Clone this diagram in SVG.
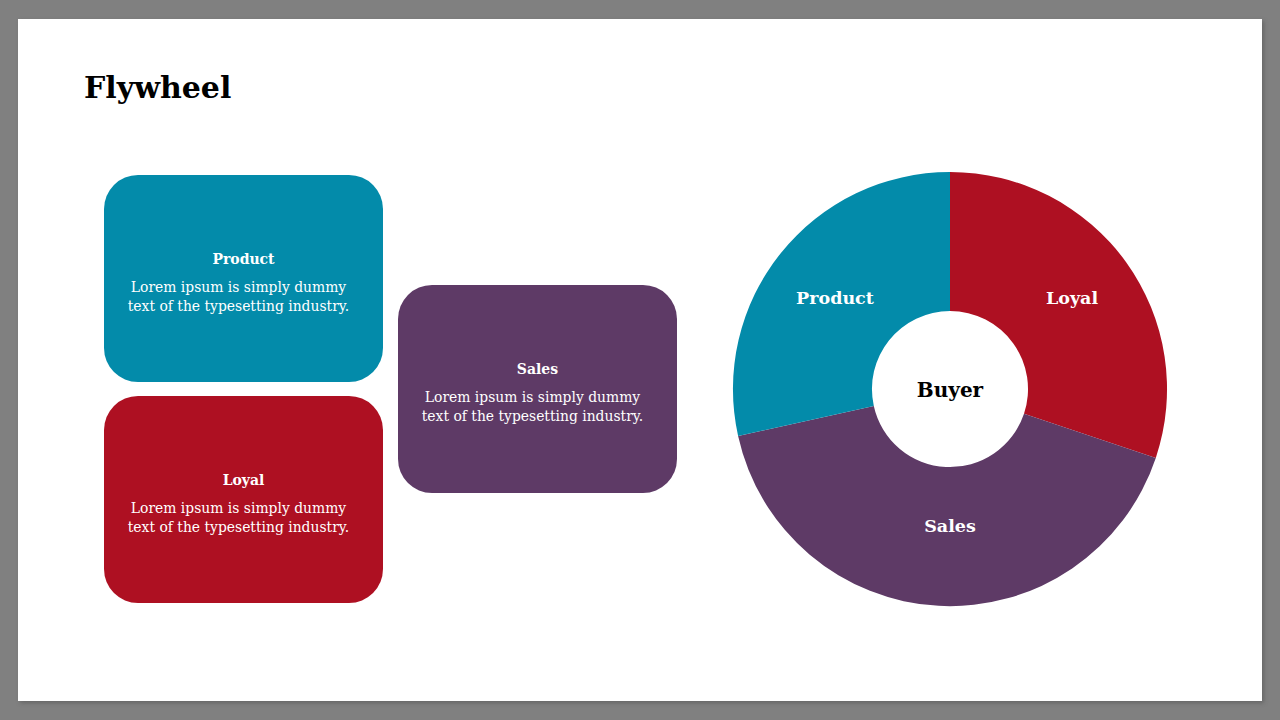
<svg xmlns="http://www.w3.org/2000/svg" width="1280" height="720" viewBox="0 0 1280 720">
<style>
.t{font-family:"DejaVu Serif","Liberation Serif",serif;fill:#fff;text-anchor:middle}
.h{font-weight:bold;font-size:14px}
.b{font-size:13.9px}
.d{font-weight:bold;font-size:17.5px}
</style>
<defs>
<filter id="sh" x="-5%" y="-5%" width="110%" height="110%"><feGaussianBlur stdDeviation="2"/></filter>
</defs>
<rect width="1280" height="720" fill="#808080"/>
<rect x="20" y="21" width="1244" height="682" fill="#555" opacity="0.6" filter="url(#sh)"/>
<rect x="18" y="19" width="1244" height="682" fill="#fff"/>
<text x="84" y="98" font-family="DejaVu Serif,serif" font-weight="bold" font-size="30" fill="#000">Flywheel</text>
<g id="box-product">
<rect x="104" y="175" width="279" height="207" rx="34" fill="#038BAA"/>
<text class="t h" x="243.5" y="264">Product</text>
<text class="t b" x="238.5" y="292">Lorem ipsum is simply dummy</text>
<text class="t b" x="238.5" y="311">text of the typesetting industry.</text>
</g>
<g id="box-loyal">
<rect x="104" y="396" width="279" height="207" rx="34" fill="#AE1022"/>
<text class="t h" x="243.5" y="485">Loyal</text>
<text class="t b" x="238.5" y="513">Lorem ipsum is simply dummy</text>
<text class="t b" x="238.5" y="532">text of the typesetting industry.</text>
</g>
<g id="box-sales">
<rect x="398" y="285" width="279" height="208" rx="34" fill="#5E3A66"/>
<text class="t h" x="537.5" y="374">Sales</text>
<text class="t b" x="532.5" y="402">Lorem ipsum is simply dummy</text>
<text class="t b" x="532.5" y="421">text of the typesetting industry.</text>
</g>
<g id="donut">
<g id="seg-loyal"><path d="M950 172 A217 217 0 0 1 1155.8 457.9 L1024 413.7 A78 78 0 0 0 950 311 Z" fill="#AE1022"/>
<text class="t d" x="1072" y="304">Loyal</text></g>
<g id="seg-sales"><path d="M1155.8 457.9 A217 217 0 0 1 738.1 436 L873.8 405.9 A78 78 0 0 0 1024 413.7 Z" fill="#5E3A66"/>
<text class="t d" x="950" y="532">Sales</text></g>
<g id="seg-product"><path d="M738.1 436 A217 217 0 0 1 950 172 L950 311 A78 78 0 0 0 873.8 405.9 Z" fill="#038BAA"/>
<text class="t d" x="835" y="304">Product</text></g>
<g id="buyer"><text x="950" y="397" font-family="DejaVu Serif,serif" font-weight="bold" font-size="20" text-anchor="middle" fill="#000">Buyer</text></g>
</g>
</svg>
